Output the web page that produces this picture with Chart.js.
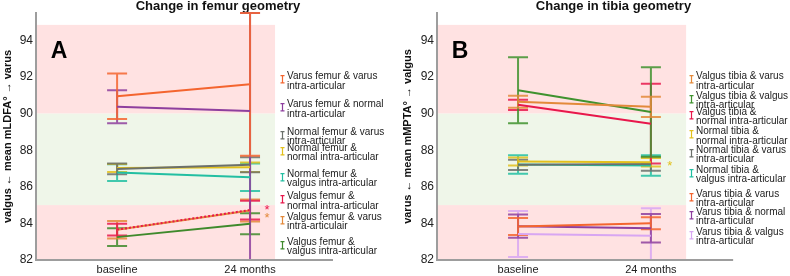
<!DOCTYPE html>
<html><head><meta charset="utf-8">
<script src="https://cdn.jsdelivr.net/npm/chart.js@4.4.1/dist/chart.umd.min.js"></script>
<style>
html,body{margin:0;padding:0;background:#fff;}
body{width:790px;height:276px;overflow:hidden;position:relative;font-family:"Liberation Sans",Arial,sans-serif;}
canvas{position:absolute;top:0;}
.legend{position:absolute;top:0;font-size:10px;color:#222;}
.item{position:absolute;left:0;line-height:9.3px;white-space:pre;}
.item svg{position:absolute;left:0;top:4px;}
.item span{position:absolute;left:7px;top:0;white-space:pre;}
</style></head><body>
<canvas id="cA" width="400" height="276" style="left:0"></canvas>
<canvas id="cB" width="390" height="276" style="left:400px"></canvas>
<div id="legA" class="legend" style="left:280px"></div>
<div id="legB" class="legend" style="left:689px"></div>
<script>
// ---------- data ----------
const categories = ['baseline', '24 months'];
const yTicks = [82, 84, 86, 88, 90, 92, 94];

const femurNames = [
  'Varus femur & varus\nintra-articular',
  'Varus femur & normal\nintra-articular',
  'Normal femur & varus\nintra-articular',
  'Normal femur &\nnormal intra-articular',
  'Normal femur &\nvalgus intra-articular',
  'Valgus femur &\nnormal intra-articular',
  'Valgus femur & varus\nintra-articulair',
  'Valgus femur &\nvalgus intra-articular'
];
const femurMean = [
  [90.95, 91.60],
  [90.38, 90.14],
  [86.98, 87.21],
  [87.03, 87.07],
  [86.78, 86.52],
  [83.66, 84.73],
  [83.65, 84.70],
  [83.25, 83.98]
];
const femurErr = [
  [1.25, 3.90],
  [0.90, 8.20],
  [0.29, 0.41],
  [0.22, 0.26],
  [0.46, 0.75],
  [0.32, 0.51],
  [0.48, 0.60],
  [0.48, 0.57]
];

const tibiaNames = [
  'Valgus tibia & varus\nintra-articular',
  'Valgus tibia & valgus\nintra-articular',
  'Valgus tibia &\nnormal intra-articular',
  'Normal tibia &\nnormal intra-articular',
  'Normal tibia & varus\nintra-articular',
  'Normal tibia &\nvalgus intra-articular',
  'Varus tibia & varus\nintra-articular',
  'Varus tibia & normal\nintra-articular',
  'Varus tibia & valgus\nintra-articular'
];
const tibiaMean = [
  [90.65, 90.37],
  [91.28, 90.09],
  [90.48, 89.45],
  [87.38, 87.34],
  [87.20, 87.25],
  [87.22, 87.17],
  [83.83, 84.01],
  [83.85, 83.74],
  [83.42, 83.33]
];
const tibiaErr = [
  [0.33, 0.55],
  [1.80, 2.45],
  [0.28, 2.18],
  [0.22, 0.23],
  [0.28, 0.37],
  [0.50, 0.56],
  [0.47, 0.33],
  [0.64, 0.78],
  [1.26, 1.50]
];

// ---------- styles ----------
const C = {
  orangeRed: '#f4652f', purple: '#8e3f9e', gray: '#6b706b', yellow: '#e2c01c',
  teal: '#22bfa2', crimson: '#e8174b', tan: '#e3893a', green: '#3f8a2c', lavender: '#d8a6f2'
};
const femurColors = [C.orangeRed, C.purple, C.gray, C.yellow, C.teal, C.crimson, C.tan, C.green];
const tibiaColors = [C.tan, '#3f922e', C.crimson, C.yellow, C.gray, C.teal, C.orangeRed, C.purple, C.lavender];
const femurDash = [[], [], [], [], [], [2, 2], [], []];
const tibiaDash = [[], [], [], [], [], [], [], [], []];
const legendTopsA = [71.3, 99.3, 127, 143, 168.6, 191.3, 212, 237];
const legendTopsB = [71.4, 91, 107, 126.3, 144.6, 164.6, 188.6, 207, 227];
const FONT = '"Liberation Sans", Arial, sans-serif';

// ---------- plugin ----------
const panelPlugin = {
  id: 'panel',
  beforeDatasetsDraw(chart, args, o) {
    const { ctx, chartArea, scales: { x, y } } = chart;
    ctx.save();
    const xl = chartArea.left + 1, xr = x.getPixelForValue(o.shadeEnd);
    o.bands.forEach(b => {
      const y1 = y.getPixelForValue(b.to), y2 = y.getPixelForValue(b.from);
      ctx.fillStyle = b.color;
      ctx.fillRect(xl, y1, xr - xl, y2 - y1);
    });
    // error bars (last dataset underneath)
    ctx.lineWidth = 2;
    ctx.globalAlpha = 0.85;
    for (let i = chart.data.datasets.length - 1; i >= 0; i--) {
      const ds = chart.data.datasets[i];
      ds.data.forEach((p, j) => {
        const e = ds.errors[j];
        const hi = Math.min(p.y + e, y.max), lo = Math.max(p.y - e, y.min);
        const px = x.getPixelForValue(p.x);
        const yh = y.getPixelForValue(hi), yl = y.getPixelForValue(lo);
        ctx.strokeStyle = ds.borderColor;
        ctx.beginPath();
        ctx.moveTo(px, yh); ctx.lineTo(px, yl);
        ctx.moveTo(px - o.cap, yh); ctx.lineTo(px + o.cap, yh);
        ctx.moveTo(px - o.cap, yl); ctx.lineTo(px + o.cap, yl);
        ctx.stroke();
      });
    }
    ctx.restore();
  },
  afterDraw(chart, args, o) {
    const { ctx, chartArea, scales: { x, y } } = chart;
    ctx.save();
    // bottom axis line
    ctx.strokeStyle = '#9d9d9d';
    ctx.lineWidth = 2;
    ctx.beginPath();
    ctx.moveTo(chartArea.left, chartArea.bottom);
    ctx.lineTo(x.getPixelForValue(o.axisEnd), chartArea.bottom);
    ctx.stroke();
    // panel letter
    ctx.fillStyle = '#000';
    ctx.font = 'bold 23px ' + FONT;
    ctx.textAlign = 'center';
    ctx.textBaseline = 'middle';
    ctx.fillText(o.letter, chartArea.left + 23, chartArea.top + 39);
    // significance stars
    ctx.font = '13px ' + FONT;
    o.stars.forEach(s => {
      const ds = chart.data.datasets[s.i];
      const p = ds.data[1];
      ctx.fillStyle = ds.borderColor;
      ctx.fillText('*', x.getPixelForValue(p.x) + s.dx, y.getPixelForValue(p.y) + s.dy);
    });
    ctx.restore();
  }
};

function makeChart(id, title, yTitle, names, means, errs, colors, dashes, opt) {
  const datasets = names.map((n, i) => ({
    label: n,
    data: means[i].map((v, j) => ({ x: j, y: v })),
    errors: errs[i],
    borderColor: colors[i],
    backgroundColor: colors[i],
    borderWidth: 2,
    borderDash: dashes[i],
    pointRadius: 0,
    tension: 0
  }));
  return new Chart(document.getElementById(id), {
    type: 'line',
    data: { datasets },
    plugins: [panelPlugin],
    options: {
      responsive: false,
      animation: false,
      events: [],
      layout: { padding: { left: 0, right: 0, top: 0, bottom: 0 } },
      plugins: {
        legend: { display: false },
        tooltip: { enabled: false },
        title: {
          display: true, text: title, fullSize: false, color: '#111',
          font: { family: FONT, size: 13, weight: 'bold', lineHeight: 1 },
          padding: { top: 0, bottom: 0 }
        },
        panel: {
          letter: opt.letter, shadeEnd: opt.shadeEnd, axisEnd: opt.axisEnd, cap: 10,
          stars: opt.stars,
          bands: [
            { from: 90, to: 94.85, color: 'rgb(255,226,226)' },
            { from: 85, to: 90, color: 'rgb(239,246,233)' },
            { from: 82, to: 85, color: 'rgb(255,226,226)' }
          ]
        }
      },
      scales: {
        x: {
          type: 'linear', min: -0.61, max: opt.xMax,
          grid: { display: false, drawTicks: false },
          border: { display: false },
          afterBuildTicks: s => { s.ticks = categories.map((c, i) => ({ value: i })); },
          afterFit: s => { s.height = 16; },
          ticks: {
            padding: 3, color: '#222', maxRotation: 0, autoSkip: false,
            font: { family: FONT, size: 11 },
            callback: v => categories[v]
          }
        },
        y: {
          min: 82, max: 95.5,
          grid: { display: false, drawTicks: false },
          border: { display: true, color: '#9d9d9d', width: 2 },
          afterBuildTicks: s => { s.ticks = yTicks.map(v => ({ value: v })); },
          afterFit: s => { s.width = opt.yWidth; },
          ticks: { padding: 3, color: '#222', font: { family: FONT, size: 12 } },
          title: {
            display: true, text: yTitle, color: '#111',
            font: { family: FONT, size: 11, weight: 'bold', lineHeight: 1.2 },
            padding: { top: 1, bottom: 0 }
          }
        }
      }
    }
  });
}

function buildLegend(elId, names, colors, tops) {
  const el = document.getElementById(elId);
  names.forEach((n, i) => {
    const d = document.createElement('div');
    d.className = 'item';
    d.style.top = tops[i] + 'px';
    const ns = 'http://www.w3.org/2000/svg';
    const svg = document.createElementNS(ns, 'svg');
    svg.setAttribute('width', '5'); svg.setAttribute('height', '9');
    const path = document.createElementNS(ns, 'path');
    path.setAttribute('d', 'M0.5 0.6H4.5M2.5 0.6V7.9M0.5 7.9H4.5');
    path.setAttribute('stroke', colors[i]);
    path.setAttribute('stroke-width', '1.2');
    path.setAttribute('fill', 'none');
    svg.appendChild(path);
    const sp = document.createElement('span');
    sp.textContent = n;
    d.appendChild(svg); d.appendChild(sp);
    el.appendChild(d);
  });
}

makeChart('cA', 'Change in femur geometry', 'valgus \u2190 mean mLDFA\u00b0 \u2192 varus',
  femurNames, femurMean, femurErr, femurColors, femurDash,
  { letter: 'A', shadeEnd: 1.188, axisEnd: 1.624, xMax: 2.128, yWidth: 36,
    stars: [{ i: 5, dx: 17, dy: 0 }, { i: 6, dx: 17, dy: 8 }] });
makeChart('cB', 'Change in tibia geometry', 'varus \u2190 mean mMPTA\u00b0 \u2192 valgus',
  tibiaNames, tibiaMean, tibiaErr, tibiaColors, tibiaDash,
  { letter: 'B', shadeEnd: 1.265, axisEnd: 1.619, xMax: 2.047, yWidth: 37,
    stars: [{ i: 3, dx: 19, dy: 4 }] });
buildLegend('legA', femurNames, femurColors, legendTopsA);
buildLegend('legB', tibiaNames, tibiaColors, legendTopsB);
</script>
</body></html>
